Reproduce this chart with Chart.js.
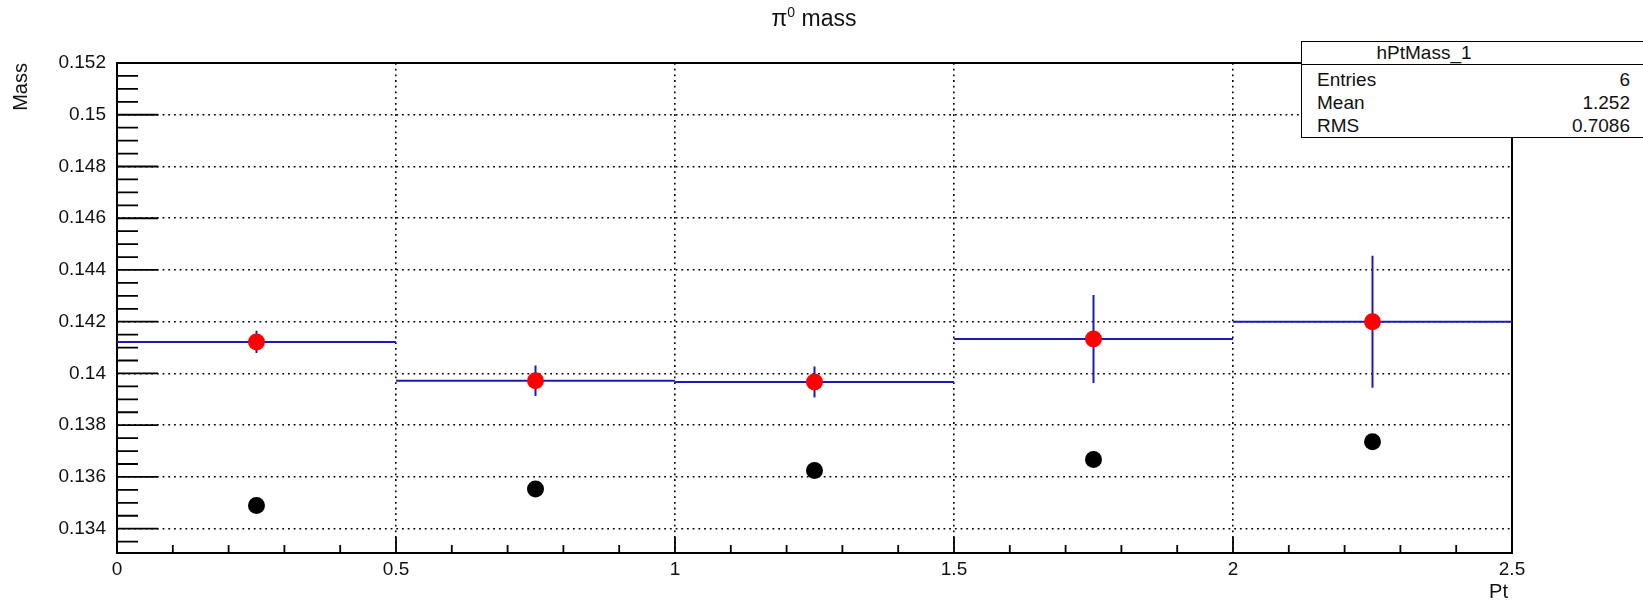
<!DOCTYPE html>
<html>
<head>
<meta charset="utf-8">
<script src="https://cdn.jsdelivr.net/npm/chart.js@4.4.1/dist/chart.umd.min.js"></script>
<style>
body{margin:0;background:#fff;overflow:hidden;font-family:"Liberation Sans",Arial,sans-serif;color:#111}
#wrap{position:relative;width:1643px;height:601px}
#c{position:absolute;left:0;top:0}
#title{position:absolute;left:814px;top:5px;transform:translateX(-50%);font-size:23px;white-space:nowrap}
#title sup{font-size:14px;line-height:0;vertical-align:9px}
#ytitle{position:absolute;left:10px;top:263px;width:200px;text-align:right;font-size:20px;line-height:20px;transform-origin:0 0;transform:rotate(-90deg)}
#xtitle{position:absolute;right:135px;top:581px;font-size:20px;line-height:20px}
#stats{position:absolute;left:1301px;top:41px;width:346px;height:97px;box-sizing:border-box;border:1.5px solid #000;background:#fff;overflow:hidden;font-size:19px}
#stats .head{position:relative;height:22px;border-bottom:1.5px solid #000}
#stats .head span{position:absolute;left:122px;top:0;line-height:22px;transform:translateX(-50%)}
#stats .rows{padding-top:3px}
#stats .row{display:flex;justify-content:space-between;height:23px;line-height:23px;padding:0 16px 0 15px}
</style>
</head>
<body>
<div id="wrap">
  <canvas id="c" width="1643" height="601"></canvas>
  <div id="title">&pi;<sup>0</sup> mass</div>
  <div id="ytitle">Mass</div>
  <div id="xtitle">Pt</div>
  <div id="stats"><div class="head"><span id="hname"></span></div><div class="rows" id="srows"></div></div>
</div>
<script>
// pt bins and fitted pi0 mass per bin
const ptEdges = [0, 0.5, 1, 1.5, 2, 2.5];
const ptCentres = [0.25, 0.75, 1.25, 1.75, 2.25];
const fitMass = [0.14122, 0.13972, 0.13967, 0.14133, 0.1420];
const fitMassErr = [0.00043, 0.00059, 0.0006, 0.0017, 0.00255];
const peakMass = [0.1349, 0.13553, 0.13625, 0.13667, 0.13736];

const xTickLabels = ['0', '0.5', '1', '1.5', '2', '2.5'];
const yTickLabels = ['0.134', '0.136', '0.138', '0.14', '0.142', '0.144', '0.146', '0.148', '0.15', '0.152'];
const xRange = [0, 2.5];
const yRange = [0.13306, 0.152];

const histName = 'hPtMass_1';
const statsNames = ['Entries', 'Mean', 'RMS'];
const statsValues = ['6', '1.252', '0.7086'];

document.getElementById('hname').textContent = histName;
document.getElementById('srows').innerHTML = statsNames
  .map((n, i) => `<div class="row"><span>${n}</span><span>${statsValues[i]}</span></div>`).join('');

// major ticks carry a label, minor ones sit in between
function axisTicks(min, max, step, labels) {
  const majors = labels.map(Number);
  const out = [];
  for (let i = Math.ceil(min / step - 1e-6); i * step <= max + 1e-9; i++) {
    const v = +(i * step).toFixed(6);
    const k = majors.findIndex(m => Math.abs(m - v) < step / 10);
    out.push({value: v, isMajor: k >= 0, text: k >= 0 ? labels[k] : ''});
  }
  return out;
}

// horizontal bin-width bars and vertical error bars, split by null gaps
const binBars = [];
const errBars = [];
fitMass.forEach((m, i) => {
  binBars.push({x: ptEdges[i], y: m}, {x: ptEdges[i + 1], y: m}, {x: ptEdges[i + 1], y: null});
  errBars.push({x: ptCentres[i], y: m - fitMassErr[i]}, {x: ptCentres[i], y: m + fitMassErr[i]}, {x: ptCentres[i], y: null});
});

const gridColor = (lo, hi) => c =>
  c.tick && c.tick.isMajor && c.tick.value > lo + 1e-9 && c.tick.value < hi - 1e-9 ? '#000' : 'rgba(0,0,0,0)';

// frame box plus inward tick marks
const frame = {
  id: 'frame',
  beforeDatasetsDraw(chart) {
    const {ctx, chartArea: a, scales: {x, y}} = chart;
    ctx.save();
    ctx.strokeStyle = '#000';
    ctx.lineWidth = 1.8;
    ctx.beginPath();
    x.ticks.forEach(t => {
      const px = x.getPixelForValue(t.value);
      ctx.moveTo(px, a.bottom);
      ctx.lineTo(px, a.bottom - (t.isMajor ? 16 : 8));
    });
    y.ticks.forEach(t => {
      const py = y.getPixelForValue(t.value);
      ctx.moveTo(a.left, py);
      ctx.lineTo(a.left + (t.isMajor ? 41 : 21), py);
    });
    ctx.stroke();
    ctx.lineWidth = 2;
    ctx.strokeRect(a.left, a.top, a.right - a.left, a.bottom - a.top);
    ctx.restore();
  }
};

const tickFont = {family: '"Liberation Sans", Arial, sans-serif', size: 19};

new Chart('c', {
  type: 'line',
  data: {
    datasets: [
      {data: ptCentres.map((x, i) => ({x, y: fitMass[i]})), showLine: false,
       pointRadius: 8.5, pointBackgroundColor: '#ff0000', pointBorderWidth: 0},
      {data: ptCentres.map((x, i) => ({x, y: peakMass[i]})), showLine: false,
       pointRadius: 8.5, pointBackgroundColor: '#000', pointBorderWidth: 0},
      {data: binBars, borderColor: '#1c1cb4', borderWidth: 2, pointRadius: 0, spanGaps: false},
      {data: errBars, borderColor: '#1c1cb4', borderWidth: 2, pointRadius: 0, spanGaps: false}
    ]
  },
  options: {
    responsive: false,
    animation: false,
    events: [],
    layout: {padding: {left: 0, top: 63, right: 131, bottom: 0}},
    plugins: {legend: {display: false}, tooltip: {enabled: false}},
    scales: {
      x: {
        type: 'linear', min: xRange[0], max: xRange[1],
        afterBuildTicks: s => { s.ticks = axisTicks(xRange[0], xRange[1], 0.1, xTickLabels); },
        afterFit: s => { s.height = 48; },
        ticks: {autoSkip: false, maxRotation: 0, padding: 5, color: '#111', font: tickFont,
                callback: (v, i, t) => t[i].text},
        grid: {drawTicks: false, color: gridColor(xRange[0], xRange[1]), lineWidth: 1.6},
        border: {display: false, dash: [1.8, 3.9]}
      },
      y: {
        type: 'linear', min: yRange[0], max: yRange[1],
        afterBuildTicks: s => { s.ticks = axisTicks(yRange[0], yRange[1], 0.0005, yTickLabels); },
        afterFit: s => { s.width = 117; },
        ticks: {autoSkip: false, padding: 11, color: '#111', font: tickFont,
                callback: (v, i, t) => t[i].text},
        grid: {drawTicks: false, color: gridColor(yRange[0], yRange[1]), lineWidth: 1.6},
        border: {display: false, dash: [1.8, 3.9]}
      }
    }
  },
  plugins: [frame]
});
</script>
</body>
</html>
